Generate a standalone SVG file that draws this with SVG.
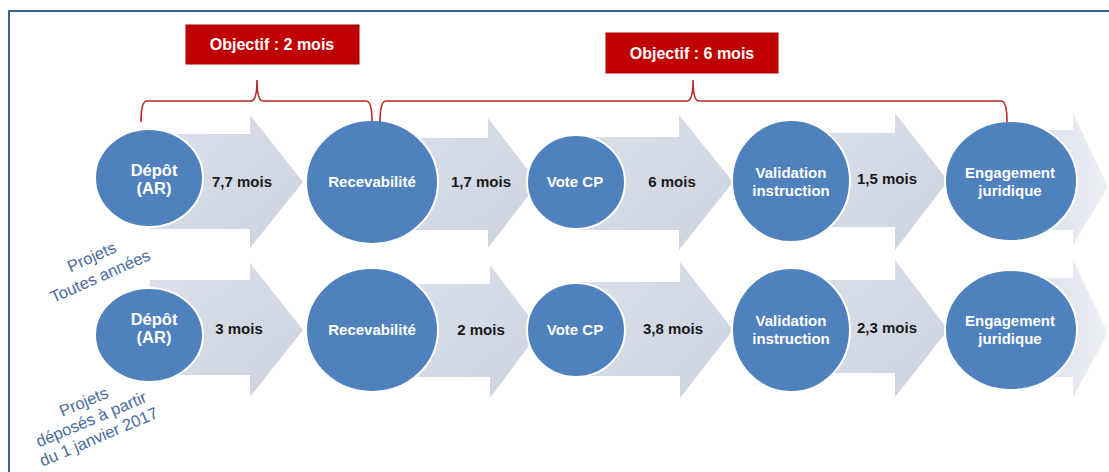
<svg xmlns="http://www.w3.org/2000/svg" width="1109" height="472" viewBox="0 0 1109 472">
<style>
  .arrow { fill: url(#arrowGrad); }
  .arrowEnd { fill: url(#arrowFade); }
  .circ { fill: #4F81BD; stroke: #ffffff; stroke-width: 2; }
  .ctext { font-family: "Liberation Sans", Arial, sans-serif; font-weight: bold; font-size: 15px; fill: #ffffff; text-anchor: middle; }
  .big { font-size: 16.5px; }
  .atext { font-family: "Liberation Sans", Arial, sans-serif; font-weight: bold; font-size: 15px; fill: #1a1a1a; text-anchor: middle; }
  .box { fill: #C00000; stroke: #a80000; stroke-width: 1; }
  .btext { font-family: "Liberation Sans", Arial, sans-serif; font-weight: bold; font-size: 16px; fill: #ffffff; text-anchor: middle; }
  .brace { fill: none; stroke: #b8282a; stroke-width: 1.6; }
  .side { font-family: "Liberation Sans", Arial, sans-serif; font-size: 16.5px; fill: #4a6c9e; text-anchor: middle; }
</style>
<defs>
  <linearGradient id="arrowGrad" x1="0" y1="0" x2="1" y2="1">
    <stop offset="0" stop-color="#dbe0ea"/>
    <stop offset="1" stop-color="#ccd3e0"/>
  </linearGradient>
  <linearGradient id="arrowFade" x1="0" y1="0" x2="1" y2="0">
    <stop offset="0" stop-color="#d3d9e5"/>
    <stop offset="1" stop-color="#eef0f5"/>
  </linearGradient>
</defs>
<rect x="0" y="0" width="1109" height="472" fill="#ffffff"/>
<rect id="frame" x="9" y="11" width="1115" height="475" fill="none" stroke="#3a6199" stroke-width="2"/>

<g id="connectors">
  <path class="arrow" d="M150,134 L250,134 L250,115 L303,182 L250,248 L250,229 L150,229 Z"/>
  <path class="arrow" d="M372,138 L488,138 L488,118 L538,183 L488,248 L488,230 L372,230 Z"/>
  <path class="arrow" d="M576,137 L679,137 L679,115 L733,182 L679,250 L679,230 L576,230 Z"/>
  <path class="arrow" d="M791,133 L895,133 L895,113 L948,181 L895,250 L895,227 L791,227 Z"/>
  <path class="arrowEnd" d="M1011,130 L1073,130 L1073,113 L1108,187 L1073,245 L1073,230 L1011,230 Z"/>
  <path class="arrow" d="M150,280 L250,280 L250,263 L303,330 L250,397 L250,375 L150,375 Z"/>
  <path class="arrow" d="M372,284 L490,284 L490,265 L540,331 L490,398 L490,377 L372,377 Z"/>
  <path class="arrow" d="M576,282 L680,282 L680,262 L733,330 L680,398 L680,376 L576,376 Z"/>
  <path class="arrow" d="M791,280 L895,280 L895,260 L948,330 L895,397 L895,373 L791,373 Z"/>
  <path class="arrowEnd" d="M1011,278 L1073,278 L1073,260 L1108,333 L1073,397 L1073,377 L1011,377 Z"/>
</g>

<g id="durations">
  <text class="atext" x="242" y="187">7,7 mois</text>
  <text class="atext" x="481" y="187">1,7 mois</text>
  <text class="atext" x="672" y="187">6 mois</text>
  <text class="atext" x="887" y="184">1,5 mois</text>
  <text class="atext" x="239" y="334">3 mois</text>
  <text class="atext" x="481" y="335">2 mois</text>
  <text class="atext" x="673" y="334">3,8 mois</text>
  <text class="atext" x="887" y="333">2,3 mois</text>
</g>

<g id="node-depot-1"><ellipse class="circ" cx="149" cy="178" rx="54" ry="49"/><text class="ctext big" x="154" y="176">Dépôt</text><text class="ctext big" x="154" y="194">(AR)</text></g>
<g id="node-recev-1"><ellipse class="circ" cx="372" cy="182" rx="66" ry="62"/><text class="ctext" x="372" y="187">Recevabilité</text></g>
<g id="node-vote-1"><ellipse class="circ" cx="576" cy="182" rx="49" ry="47"/><text class="ctext" x="575" y="187">Vote CP</text></g>
<g id="node-valid-1"><ellipse class="circ" cx="791" cy="181" rx="59" ry="61"/><text class="ctext" x="791" y="178">Validation</text><text class="ctext" x="791" y="196">instruction</text></g>
<g id="node-engag-1"><ellipse class="circ" cx="1011" cy="181" rx="66" ry="60"/><text class="ctext" x="1010" y="178">Engagement</text><text class="ctext" x="1010" y="196">juridique</text></g>

<g id="node-depot-2"><ellipse class="circ" cx="149" cy="335" rx="54" ry="47"/><text class="ctext big" x="154" y="325">Dépôt</text><text class="ctext big" x="154" y="343">(AR)</text></g>
<g id="node-recev-2"><ellipse class="circ" cx="372" cy="330" rx="66" ry="62"/><text class="ctext" x="372" y="335">Recevabilité</text></g>
<g id="node-vote-2"><ellipse class="circ" cx="576" cy="330" rx="49" ry="47"/><text class="ctext" x="575" y="335">Vote CP</text></g>
<g id="node-valid-2"><ellipse class="circ" cx="791" cy="330" rx="59" ry="62"/><text class="ctext" x="791" y="326">Validation</text><text class="ctext" x="791" y="344">instruction</text></g>
<g id="node-engag-2"><ellipse class="circ" cx="1011" cy="330" rx="66" ry="60"/><text class="ctext" x="1010" y="326">Engagement</text><text class="ctext" x="1010" y="344">juridique</text></g>

<g id="objectif-2">
  <rect class="box" x="186" y="25" width="173" height="39"/>
  <text class="btext" x="272" y="50">Objectif : 2 mois</text>
  <path class="brace" d="M141,122 Q141,101 147,101 L251,101 Q257,101 257,80 Q257,101 263,101 L366,101 Q372,101 372,121"/>
</g>
<g id="objectif-6">
  <rect class="box" x="606" y="33" width="172" height="40"/>
  <text class="btext" x="692" y="59">Objectif : 6 mois</text>
  <path class="brace" d="M380,122 Q380,101 386,101 L687,101 Q693,101 693,80 Q693,101 699,101 L1001,101 Q1007,101 1007,122"/>
</g>

<g id="label-row1" transform="translate(94,262) rotate(-24)">
  <text class="side" x="0" y="0">Projets</text>
  <text class="side" x="0" y="21">Toutes années</text>
</g>
<g id="label-row2" transform="translate(86,407) rotate(-23)">
  <text class="side" x="0" y="0">Projets</text>
  <text class="side" x="0" y="19">déposés à partir</text>
  <text class="side" x="0" y="38">du 1 janvier 2017</text>
</g>
</svg>
